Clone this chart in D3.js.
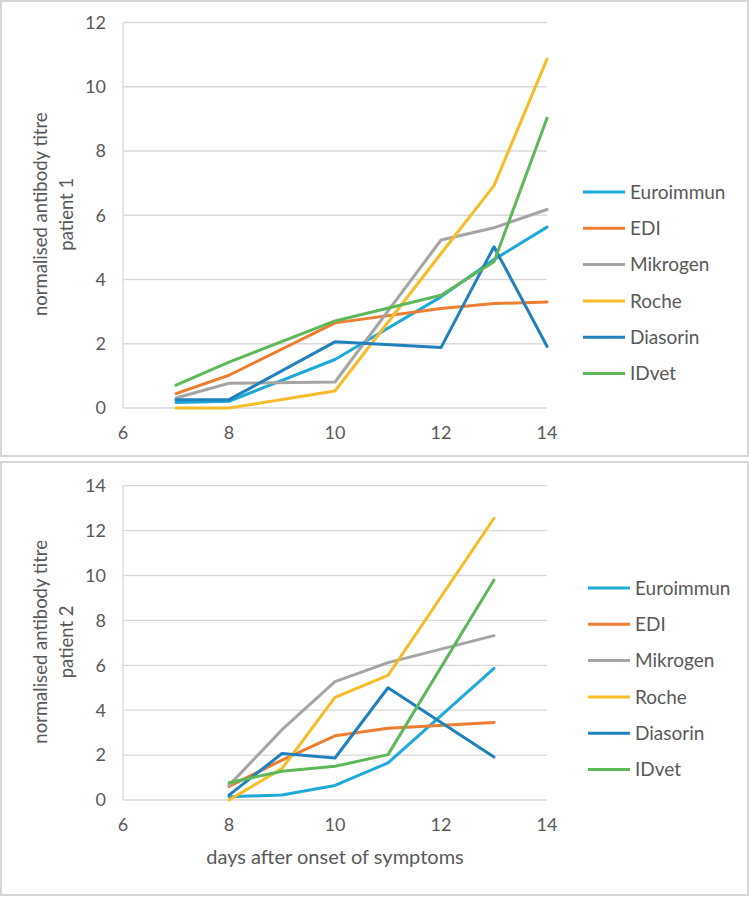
<!DOCTYPE html>
<html><head><meta charset="utf-8">
<script src="https://cdn.jsdelivr.net/npm/d3@7"></script>
<style>
html,body{margin:0;padding:0;background:#fff;}
text{font-family:Lato,"Open Sans",sans-serif;fill:#595959;}
</style></head>
<body>
<svg id="c" width="750" height="897"></svg>
<script>
const seriesNames = ["Euroimmun","EDI","Mikrogen","Roche","Diasorin","IDvet"];
const seriesColors = ["#1FA9D9","#ED7D31","#A5A5A5","#F6BD29","#2180BE","#5EB859"];

// Patient 1
const days1 = [7,8,10,12,13,14];
const p1Euroimmun = [0.17,0.21,1.51,3.46,4.62,5.63];
const p1EDI       = [0.45,1.02,2.65,3.10,3.25,3.30];
const p1Mikrogen  = [0.31,0.77,0.81,5.23,5.61,6.18];
const p1Roche     = [0.00,0.00,0.53,4.81,6.92,10.86];
const p1Diasorin  = [0.26,0.26,2.06,1.88,5.02,1.92];
const p1IDvet     = [0.71,1.43,2.71,3.51,4.55,9.02];

// Patient 2
const days2 = [8,9,10,11,13];
const p2Euroimmun = [0.15,0.22,0.65,1.65,5.86];
const p2EDI       = [0.60,1.78,2.86,3.20,3.45];
const p2Mikrogen  = [0.65,3.13,5.27,6.12,7.32];
const p2Roche     = [0.00,1.40,4.57,5.55,12.55];
const p2Diasorin  = [0.22,2.07,1.87,5.00,1.92];
const p2IDvet     = [0.77,1.28,1.50,2.02,9.80];

const xTicks = [6,8,10,12,14];
const yTicks1 = [0,2,4,6,8,10,12];
const yTicks2 = [0,2,4,6,8,10,12,14];

const svg = d3.select("#c");

function panel(cfg){
  const g = svg.append("g");
  g.append("rect").attr("x",cfg.box[0]).attr("y",cfg.box[1]).attr("width",cfg.box[2]).attr("height",cfg.box[3])
    .attr("fill","#fff").attr("stroke","#d6d6d6").attr("stroke-width",2);
  const x = d3.scaleLinear().domain([6,14]).range([123,547]);
  const y = d3.scaleLinear().domain(cfg.yDomain).range(cfg.yRange);
  g.selectAll(".grid").data(cfg.yTicks).enter().append("line")
    .attr("x1",x(6)).attr("x2",x(14)).attr("y1",d=>y(d)).attr("y2",d=>y(d))
    .attr("stroke","#d9d9d9").attr("stroke-width",1.3);
  g.append("line").attr("x1",x(6)).attr("x2",x(6)).attr("y1",y(cfg.yDomain[1])).attr("y2",y(0))
    .attr("stroke","#d9d9d9").attr("stroke-width",1.3);
  g.selectAll(".yl").data(cfg.yTicks).enter().append("text")
    .attr("x",106).attr("y",d=>y(d)).attr("dy","0.35em").attr("text-anchor","end")
    .attr("font-size",18).text(d=>d);
  g.selectAll(".xl").data(xTicks).enter().append("text")
    .attr("x",d=>x(d)).attr("y",y(0)+25).attr("dy","0.35em").attr("text-anchor","middle")
    .attr("font-size",18).text(d=>d);
  const cy = (y(0)+y(cfg.yDomain[1]))/2 - 1;
  const t = g.append("text").attr("transform",`translate(0,${cy}) rotate(-90)`).attr("text-anchor","middle").attr("font-size",18.5);
  t.append("tspan").attr("x",0).attr("y",47).text("normalised antibody titre");
  t.append("tspan").attr("x",0).attr("y",73).text(cfg.patient);
  const line = d3.line().x(d=>x(d[0])).y(d=>y(d[1]));
  cfg.series.forEach((vals,i)=>{
    g.append("path").datum(cfg.days.map((d,j)=>[d,vals[j]]))
      .attr("d",line).attr("fill","none").attr("stroke",seriesColors[i])
      .attr("stroke-width",3).attr("stroke-linejoin","round").attr("stroke-linecap","round");
  });
  const lg = g.selectAll(".lg").data(seriesNames).enter().append("g")
    .attr("transform",(d,i)=>`translate(${cfg.legX},${cfg.legY + i*36.3})`);
  lg.append("line").attr("x1",0).attr("x2",42).attr("y1",0).attr("y2",0)
    .attr("stroke",(d,i)=>seriesColors[i]).attr("stroke-width",3);
  lg.append("text").attr("x",47).attr("y",0).attr("dy","0.35em").attr("font-size",19).text(d=>d);
  return {x,y};
}

panel({box:[1,1,747,455], yDomain:[0,12], yRange:[408,22.5], yTicks:yTicks1, patient:"patient 1",
  days:days1, series:[p1Euroimmun,p1EDI,p1Mikrogen,p1Roche,p1Diasorin,p1IDvet], legX:583, legY:192});
panel({box:[1,462,747,433], yDomain:[0,14], yRange:[800,485.7], yTicks:yTicks2, patient:"patient 2",
  days:days2, series:[p2Euroimmun,p2EDI,p2Mikrogen,p2Roche,p2Diasorin,p2IDvet], legX:588, legY:588});

svg.append("text").attr("x",335).attr("y",857).attr("dy","0.35em").attr("text-anchor","middle")
  .attr("font-size",20).text("days after onset of symptoms");
</script>
</body></html>
